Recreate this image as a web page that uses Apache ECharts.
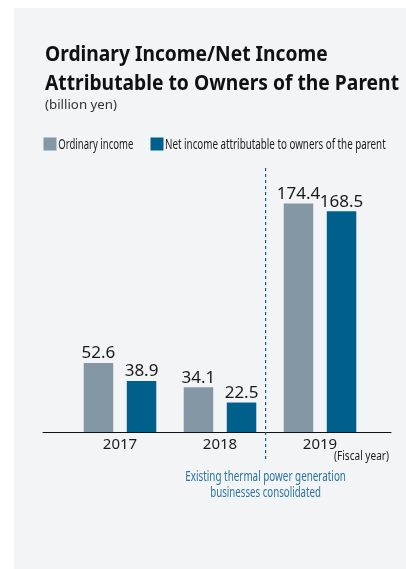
<!DOCTYPE html>
<html>
<head>
<meta charset="utf-8">
<script src="https://cdn.jsdelivr.net/npm/echarts@6/dist/echarts.min.js"></script>
<style>
  html, body { margin: 0; padding: 0; background: #ffffff; }
  #chart { width: 406px; height: 569px; }
</style>
</head>
<body>
<div id="chart"></div>
<script>
// Fiscal-year results, billion yen
const fiscalYears = ['2017', '2018', '2019'];
const ordinaryIncome = [52.6, 34.1, 174.4];
const netIncomeAttributable = [38.9, 22.5, 168.5];

const seriesNames = ['Ordinary income', 'Net income attributable to owners of the parent'];
const seriesColors = ['#8497a4', '#00608c'];

const titleLines = ['Ordinary Income/Net Income', 'Attributable to Owners of the Parent'];
const unitLabel = '(billion yen)';
const axisNote = '(Fiscal year)';
const annotationLines = ['Existing thermal power generation', 'businesses consolidated'];

const FONT = '"Noto Sans", "Open Sans", sans-serif';

// Narrow a text horizontally so it fills the given width
const measureCtx = document.createElement('canvas').getContext('2d');
function squeeze(text, size, weight, width) {
  measureCtx.font = weight + ' ' + size + 'px ' + FONT;
  return width / measureCtx.measureText(text).width;
}
function textEl(text, x, y, size, weight, fill, width, align) {
  return {
    type: 'text', x: x, y: y, z: 10,
    scaleX: squeeze(text, size, weight, width),
    style: {
      text: text, x: 0, y: 0,
      fontSize: size, fontWeight: weight, fontFamily: FONT,
      fill: fill,
      textAlign: align || 'left', align: align || 'left',
      textVerticalAlign: 'middle', verticalAlign: 'middle'
    }
  };
}

const chart = echarts.init(document.getElementById('chart'), null, { renderer: 'canvas' });

const barLabel = {
  show: true, position: 'top', distance: 1,
  fontFamily: FONT, fontSize: 17, color: '#1a1a1a'
};

chart.setOption({
  backgroundColor: '#ffffff',
  animation: false,
  grid: [
    // full-width baseline
    { left: 43, right: 15, top: 170, bottom: 137 },
    // bars
    { left: 70, width: 300, top: 170, bottom: 137 }
  ],
  xAxis: [
    {
      gridIndex: 0, type: 'value', min: 0, max: 1,
      axisLine: { show: true, onZero: false, lineStyle: { color: '#111111', width: 1 } },
      axisTick: { show: false }, axisLabel: { show: false }, splitLine: { show: false }
    },
    {
      gridIndex: 1, type: 'category', data: fiscalYears,
      axisLine: { show: false }, axisTick: { show: false },
      axisLabel: { margin: 5, fontFamily: FONT, fontSize: 15, color: '#1a1a1a' }
    }
  ],
  yAxis: [
    { gridIndex: 0, type: 'value', min: 0, max: 1, show: false },
    { gridIndex: 1, type: 'value', min: 0, max: 200, show: false }
  ],
  series: [
    {
      name: seriesNames[0], type: 'bar', xAxisIndex: 1, yAxisIndex: 1,
      data: ordinaryIncome, barWidth: 29.5, barGap: '46%',
      itemStyle: { color: seriesColors[0] }, label: barLabel
    },
    {
      name: seriesNames[1], type: 'bar', xAxisIndex: 1, yAxisIndex: 1,
      data: netIncomeAttributable, barWidth: 29.5, barGap: '46%',
      itemStyle: { color: seriesColors[1] }, label: barLabel
    }
  ]
});

// Divider between the 2018 and 2019 columns
const centers = fiscalYears.map(function (c) { return chart.convertToPixel({ xAxisIndex: 1 }, c); });
const dividerX = (centers[1] + centers[2]) / 2 - 4.4;

chart.setOption({
  graphic: [
    { type: 'rect', z: -10, shape: { x: 14, y: 8, width: 392, height: 561 }, style: { fill: '#f3f4f6' } },

    textEl(titleLines[0], 45, 54.3, 22, 'bold', '#111111', 282.7),
    textEl(titleLines[1], 45, 83.6, 22, 'bold', '#111111', 354),
    textEl(unitLabel, 45, 105, 13, 'normal', '#333333', 72),

    { type: 'rect', z: 10, shape: { x: 43.5, y: 137.5, width: 13, height: 13 }, style: { fill: seriesColors[0] } },
    textEl(seriesNames[0], 58.3, 144.6, 14, 'normal', '#1a1a1a', 75),
    { type: 'rect', z: 10, shape: { x: 150.5, y: 137.5, width: 13, height: 13 }, style: { fill: seriesColors[1] } },
    textEl(seriesNames[1], 165, 144.6, 14, 'normal', '#1a1a1a', 220.7),

    {
      type: 'line', z: 10,
      shape: { x1: dividerX, y1: 168, x2: dividerX, y2: 462 },
      style: { stroke: '#1d5a80', lineWidth: 1.2, lineDash: [3, 3] }
    },

    textEl(axisNote, 334, 456, 13, 'normal', '#1a1a1a', 55),
    textEl(annotationLines[0], dividerX, 476.8, 14, 'normal', '#2a73a0', 160.7, 'center'),
    textEl(annotationLines[1], dividerX, 493, 14, 'normal', '#2a73a0', 110.7, 'center')
  ]
});
</script>
</body>
</html>
